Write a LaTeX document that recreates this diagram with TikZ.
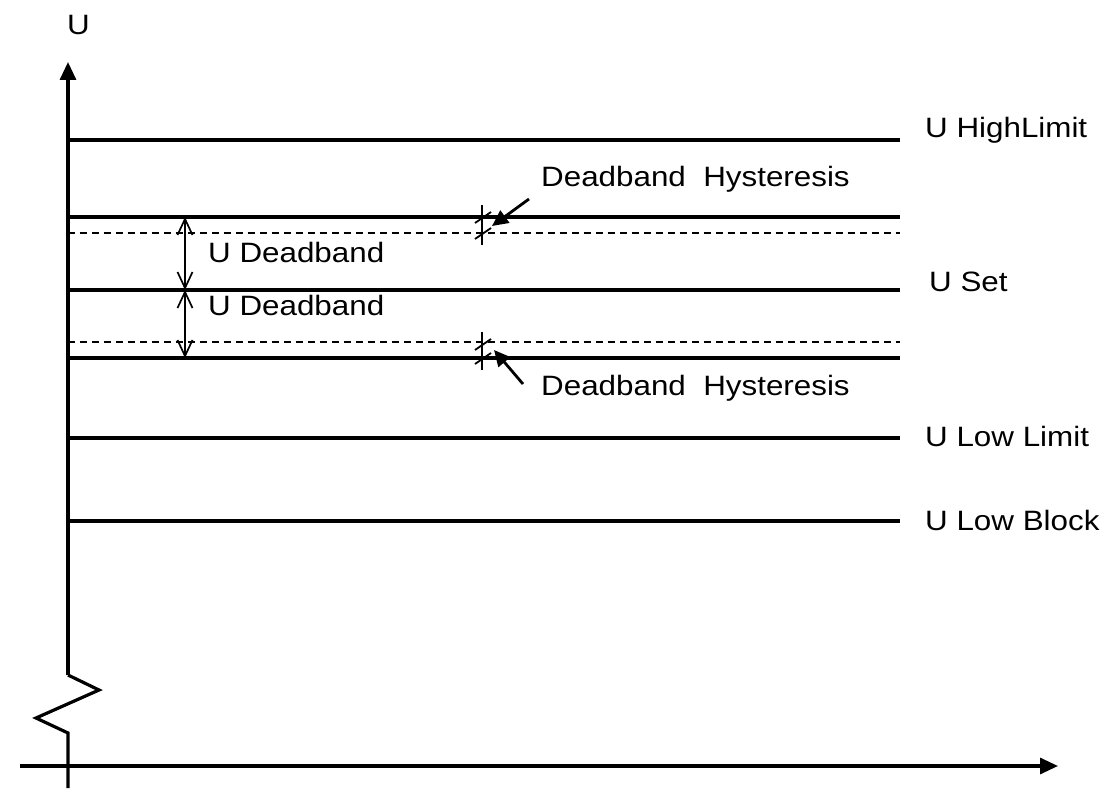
\documentclass[tikz,border=0pt]{standalone}
\usepackage{fontspec}
\setmainfont[FakeStretch=1.12]{Liberation Sans}
\usetikzlibrary{arrows.meta}
\begin{document}
\begin{tikzpicture}[x=1pt,y=-1pt,
  level/.style={line width=3.2pt},
  band/.style={line width=1.7pt,dash pattern=on 7pt off 5pt},
  thin/.style={line width=1.8pt},
  axis/.style={line width=3.2pt,-{Triangle[length=18pt,width=16pt]}},
  barbs/.style={line width=1.7pt,{Straight Barb[length=16pt,width=15pt,line width=1.7pt]}-{Straight Barb[length=16pt,width=15pt,line width=1.7pt]}},
  pointer/.style={line width=2.8pt,-{Triangle[length=16pt,width=15pt]}},
  lbl/.style={inner sep=0pt,anchor=base west,font=\fontsize{28}{32}\selectfont}]
\useasboundingbox (0,0) rectangle (1109,792);

% axes with the break in the vertical axis
\coordinate (yb) at (68,788);
\coordinate (yt) at (68,62);
\coordinate (xl) at (20,766);
\coordinate (xr) at (1058,766);
\draw[line width=3.2pt] (yb) -- (68,733) -- (36,718) -- (99,690) -- (68,675);
\draw[axis] (68,675) -- (yt);
\draw[axis] (xl) -- (xr);
\node[lbl] (ulab) at (67,35) {U};

% level lines
\foreach \n/\y in {hi/140, up/217, set/290, lo/358, ll/438, lb/521}{
  \coordinate (\n L) at (68,\y);
  \coordinate (\n R) at (900,\y);
  \draw[level] (\n L) -- (\n R);
}
\foreach \n/\y in {dup/233, dlo/342}{
  \coordinate (\n L) at (68,\y);
  \coordinate (\n R) at (900,\y);
  \draw[band] (\n L) -- (\n R);
}

% deadband arrows
\coordinate (a1) at (185,217);
\coordinate (a2) at (185,290);
\coordinate (a3) at (185,358);
\draw[barbs] (a1) -- (a2);
\draw[barbs] (a2) -- (a3);

% hysteresis marks
\coordinate (h1t) at (482,205); \coordinate (h1b) at (482,245);
\draw[thin] (h1t) -- (h1b);
\draw[thin] (475,223) -- (491,212);
\draw[thin] (475,239) -- (491,228);
\coordinate (h2t) at (482,332); \coordinate (h2b) at (482,370);
\draw[thin] (h2t) -- (h2b);
\draw[thin] (475,350) -- (491,339);
\draw[thin] (475,364) -- (491,353);

% labels
\node[lbl] (hl) at (925,137) {U HighLimit};
\node[lbl] (dh1) at (541,186) {Deadband\ \ Hysteresis};
\node[lbl] (ud1) at (208,262) {U Deadband};
\node[lbl] (us) at (929,291) {U Set};
\node[lbl] (ud2) at (208,315) {U Deadband};
\node[lbl] (dh2) at (541,395) {Deadband\ \ Hysteresis};
\node[lbl] (ll) at (925,446) {U Low Limit};
\node[lbl] (lb) at (925,530) {U Low Block};

% pointers to the hysteresis marks
\coordinate (p1s) at (529,199); \coordinate (p1e) at (492,226);
\coordinate (p2s) at (523,384); \coordinate (p2e) at (494,350);
\draw[pointer] (p1s) -- (p1e);
\draw[pointer] (p2s) -- (p2e);
\end{tikzpicture}
\end{document}
